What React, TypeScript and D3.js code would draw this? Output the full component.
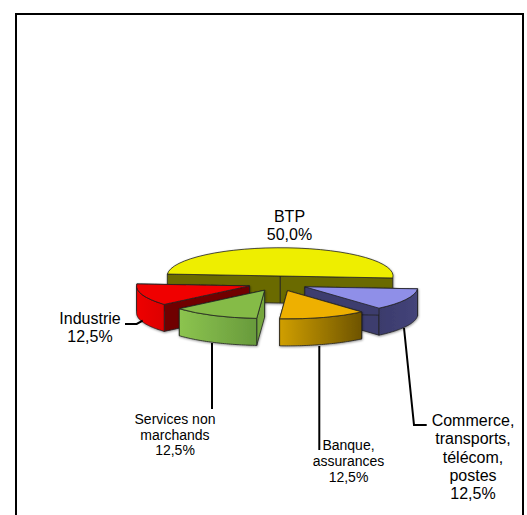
import React from "react";
import * as d3 from "d3";

const categories = ["Commerce, transports, télécom, postes", "Banque, assurances", "Services non marchands", "Industrie", "BTP"];
const shares = [12.5, 12.5, 12.5, 12.5, 50];
const shareLabels = ["12,5%", "12,5%", "12,5%", "12,5%", "50,0%"];
const labelLines = [
  ["Commerce,", "transports,", "télécom,", "postes"],
  ["Banque,", "assurances"],
  ["Services non", "marchands"],
  ["Industrie"],
  ["BTP"],
];
const topColors = ["#8F8FE8", "#EEB000", "#85BB47", "#F00000", "#EEEE00"];
const cutColors = ["#3C3C6E", "#8A6A00", "#74A63E", "#700000", "#6B6B00"];
const wallFrom = ["#3B3B6C", "#D09F00", "#8CC44F", "#EE0000", "#6B6B00"];
const wallTo = ["#44447A", "#6E5400", "#689A3C", "#DD0000", "#6B6B00"];
const paintOrder = [4, 3, 2, 0, 1];

const W = 527, H = 515;
const cx = 278, cy = 283.5, rx = 113, squash = 0.25, depth = 27, explode = 30;
const FONT = "'Liberation Sans', Arial, sans-serif";

const labelBoxes = [
  { x: 473, y: 425.7, lh: 18.4, size: 16 },
  { x: 348.5, y: 450, lh: 16, size: 14 },
  { x: 175, y: 424, lh: 15.7, size: 14 },
  { x: 90, y: 324, lh: 18, size: 16 },
  { x: 289.5, y: 222, lh: 18, size: 16 },
];
const leaders: [number, number][][] = [
  [[404, 328], [414, 425], [426.7, 425]],
  [[319.3, 346], [319.3, 450]],
  [[212, 343], [212, 409]],
  [[125, 324], [136.7, 324], [142.7, 320.7]],
  [],
];

const pie = d3.pie<number>().sort(null).startAngle((94 * Math.PI) / 180).endAngle((454 * Math.PI) / 180);
const arcs = pie(shares);
const topArc = d3.arc<d3.PieArcDatum<number>>().innerRadius(0).outerRadius(rx);

export default function App() {
  return (
    <svg width={W} height={H} style={{ position: "absolute", left: 0, top: 0, background: "#fff" }}>
      <defs>
        <filter id="soft" x="-10%" y="-10%" width="120%" height="130%">
          <feDropShadow dx="0.5" dy="1" stdDeviation="0.8" floodColor="#000" floodOpacity="0.4" />
        </filter>
        {arcs.map((a, i) => {
          const mid = (a.startAngle + a.endAngle) / 2;
          const ox = explode * Math.sin(mid);
          const s = Math.max(a.startAngle, Math.PI / 2);
          const e = Math.min(a.endAngle, (3 * Math.PI) / 2);
          const x1 = cx + ox + rx * Math.sin(e);
          const x2 = cx + ox + rx * Math.sin(s);
          return (
            <linearGradient key={i} id={`wall${i}`} gradientUnits="userSpaceOnUse" x1={x1} x2={x2} y1={0} y2={0}>
              <stop offset="0" stopColor={wallFrom[i]} />
              <stop offset="1" stopColor={wallTo[i]} />
            </linearGradient>
          );
        })}
      </defs>

      <path d={`M16 ${H}V14H523V${H}`} fill="none" stroke="#000" strokeWidth={2} />

      {paintOrder.map((i) => {
        const a = arcs[i];
        const mid = (a.startAngle + a.endAngle) / 2;
        const ox = cx + explode * Math.sin(mid);
        const oy = cy - explode * squash * Math.cos(mid);
        const px = (t: number) => ox + rx * Math.sin(t);
        const py = (t: number) => oy - rx * squash * Math.cos(t);
        const cut = (t: number) =>
          d3.line()([
            [ox, oy],
            [px(t), py(t)],
            [px(t), py(t) + depth],
            [ox, oy + depth],
          ]) + "Z";
        const s = Math.max(a.startAngle, Math.PI / 2);
        const e = Math.min(a.endAngle, (3 * Math.PI) / 2);
        const angles = s < e ? d3.range(0, 41).map((n) => s + ((e - s) * n) / 40) : [];
        const outer = d3.area<number>().x(px).y0(py).y1((t) => py(t) + depth)(angles);
        return (
          <g key={i} filter="url(#soft)" stroke="#222" strokeWidth={0.8} strokeLinejoin="round">
            <path d={cut(a.endAngle)} fill={cutColors[i]} />
            <path d={cut(a.startAngle)} fill={cutColors[i]} />
            {angles.length > 0 && <path d={outer as string} fill={`url(#wall${i})`} />}
            <path
              d={topArc(a) as string}
              transform={`translate(${ox},${oy}) scale(1,${squash})`}
              fill={topColors[i]}
              vectorEffect="non-scaling-stroke"
            />
          </g>
        );
      })}

      {leaders.map((pts, i) =>
        pts.length ? <path key={i} d={d3.line()(pts) as string} fill="none" stroke="#000" strokeWidth={2} /> : null
      )}

      {categories.map((c, i) => {
        const b = labelBoxes[i];
        const lines = [...labelLines[i], shareLabels[i]];
        return (
          <text key={c} x={b.x} y={b.y} textAnchor="middle" fontFamily={FONT} fontSize={b.size} fill="#000">
            {lines.map((l, j) => (
              <tspan key={j} x={b.x} y={b.y + j * b.lh}>{l}</tspan>
            ))}
          </text>
        );
      })}
    </svg>
  );
}
